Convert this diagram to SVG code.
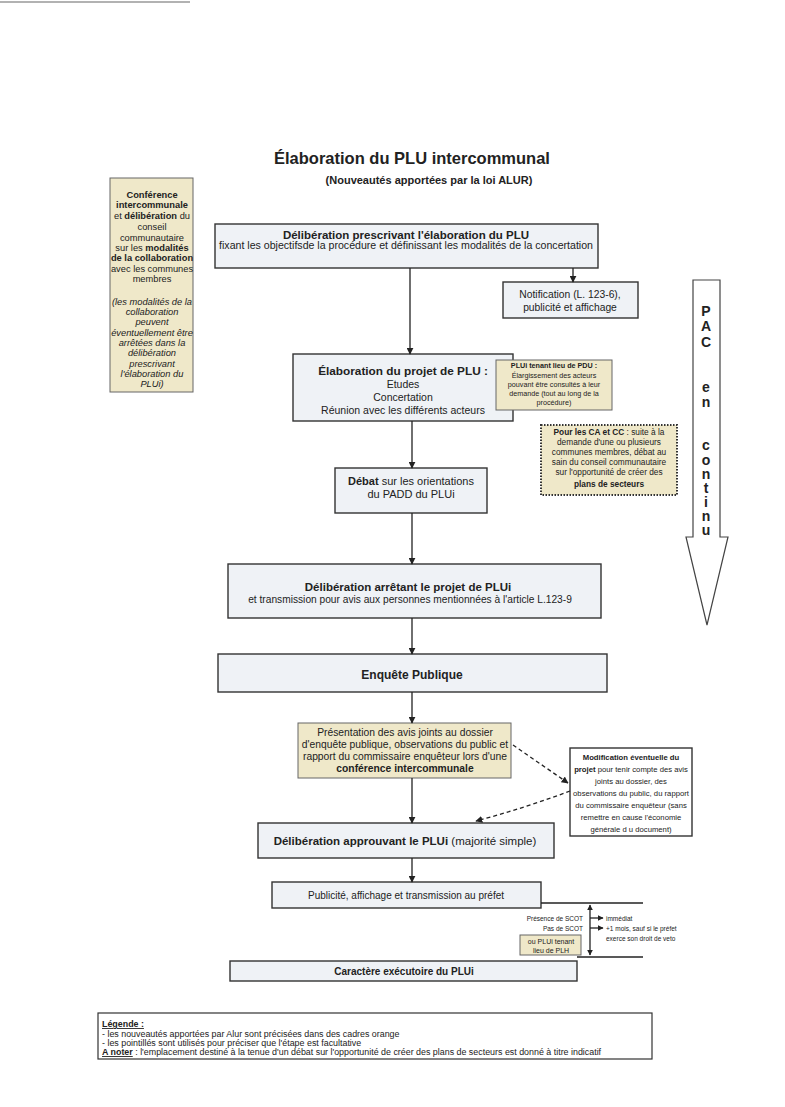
<svg xmlns="http://www.w3.org/2000/svg" width="785" height="1107" viewBox="0 0 785 1107">
<defs>
<marker id="ah" viewBox="0 0 10 10" refX="9" refY="5" markerWidth="7" markerHeight="7" orient="auto-start-reverse" markerUnits="userSpaceOnUse"><path d="M0,0 L10,5 L0,10 z" fill="#222"/></marker>
<marker id="ahs" viewBox="0 0 10 10" refX="9" refY="5" markerWidth="6" markerHeight="6" orient="auto-start-reverse" markerUnits="userSpaceOnUse"><path d="M0,0 L10,5 L0,10 z" fill="#222"/></marker>
</defs>
<style>
text{font-family:"Liberation Sans",Arial,sans-serif;fill:#222}
.box{fill:#eff2f6;stroke:#333;stroke-width:1.4}
.org{fill:#efe8c9;stroke:#666;stroke-width:1}
.dot{fill:#efe8c9;stroke:#333;stroke-width:2;stroke-dasharray:1.5 1.5}
.c{text-anchor:middle}
.b{font-weight:bold}
.i{font-style:italic}
.ln{stroke:#222;stroke-width:1.3;fill:none}
.dash{stroke:#222;stroke-width:1.3;fill:none;stroke-dasharray:4 3}
</style>
<rect width="785" height="1107" fill="#ffffff"/>
<line x1="0" y1="2" x2="190" y2="2" stroke="#999" stroke-width="1.5"/>

<g id="title">
<text x="412" y="164" class="c b" font-size="16.5">Élaboration du PLU intercommunal</text>
<text x="429" y="184" class="c b" font-size="11">(Nouveautés apportées par la loi ALUR)</text>
</g>

<g id="conference">
<rect x="110" y="178" width="83" height="214" class="org"/>
<g font-size="9.3" class="c">
<text x="152" y="198" class="b">Conférence</text>
<text x="152" y="208" class="b">intercommunale</text>
<text x="152" y="219">et <tspan class="b">délibération</tspan> du</text>
<text x="152" y="230">conseil</text>
<text x="152" y="241">communautaire</text>
<text x="152" y="251">sur les <tspan class="b">modalités</tspan></text>
<text x="152" y="261" class="b">de la collaboration</text>
<text x="152" y="272">avec les communes</text>
<text x="152" y="282">membres</text>
<text x="152" y="305" class="i">(les modalités de la</text>
<text x="152" y="315" class="i">collaboration</text>
<text x="152" y="325" class="i">peuvent</text>
<text x="152" y="336" class="i">éventuellement être</text>
<text x="152" y="346" class="i">arrêtées dans la</text>
<text x="152" y="356" class="i">délibération</text>
<text x="152" y="367" class="i">prescrivant</text>
<text x="152" y="377" class="i">l'élaboration du</text>
<text x="152" y="387" class="i">PLUi)</text>
</g>
</g>

<g id="deliberation-prescrivant">
<rect x="215" y="224" width="383" height="44" class="box"/>
<text x="406" y="239" class="c b" font-size="11.5">Délibération prescrivant l'élaboration du PLU</text>
<text x="406" y="249" class="c" font-size="10.6">fixant les objectifsde la procédure et définissant les modalités de la concertation</text>
</g>

<g id="notification">
<rect x="503" y="282" width="135" height="36" class="box"/>
<text x="570" y="298" class="c" font-size="10.3">Notification (L. 123-6),</text>
<text x="570" y="311" class="c" font-size="10.3">publicité et affichage</text>
</g>

<g id="elaboration-projet">
<rect x="293" y="354" width="220" height="67" class="box"/>
<text x="403" y="375" class="c b" font-size="11.8">Élaboration du projet de PLU :</text>
<text x="403" y="388" class="c" font-size="10.5">Etudes</text>
<text x="403" y="401" class="c" font-size="10.5">Concertation</text>
<text x="403" y="414" class="c" font-size="10.5">Réunion avec les différents acteurs</text>
</g>

<g id="plui-pdu">
<rect x="496" y="360" width="116" height="50" class="org"/>
<g font-size="7.2" class="c">
<text x="554" y="368" class="b">PLUi tenant lieu de PDU  :</text>
<text x="554" y="378">Élargissement des  acteurs</text>
<text x="554" y="387">pouvant être consultés à leur</text>
<text x="554" y="396">demande (tout au long de la</text>
<text x="554" y="405">procédure)</text>
</g>
</g>

<g id="ca-cc">
<rect x="541" y="425" width="136" height="70" class="dot"/>
<g font-size="8.3" class="c">
<text x="609" y="435"><tspan class="b">Pour les CA et CC</tspan> : suite à  la</text>
<text x="609" y="445">demande d'une ou plusieurs</text>
<text x="609" y="455">communes membres,  débat au</text>
<text x="609" y="465">sain du conseil communautaire</text>
<text x="609" y="475">sur l'opportunité de créer des</text>
<text x="609" y="487" class="b">plans de secteurs</text>
</g>
</g>

<g id="pac">
<path d="M693,280 L720,280 L720,537 L728,537 L707,625 L686,537 L693,537 Z" fill="#fff" stroke="#444" stroke-width="1.2"/>
<g font-size="14" class="c b">
<text x="706" y="316">P<tspan x="706" dy="15">A</tspan><tspan x="706" dy="16">C</tspan></text>
<text x="706" y="392">e<tspan x="706" dy="15">n</tspan></text>
<text x="706" y="450">c<tspan x="706" dy="14.5">o</tspan><tspan x="706" dy="14.5">n</tspan><tspan x="706" dy="14">t</tspan><tspan x="706" dy="14">i</tspan><tspan x="706" dy="14">n</tspan><tspan x="706" dy="14">u</tspan></text>
</g>
</g>

<g id="debat">
<rect x="335" y="468" width="152" height="45" class="box"/>
<text x="411" y="485" class="c" font-size="11"><tspan class="b">Débat</tspan> sur les orientations</text>
<text x="411" y="498" class="c" font-size="11">du PADD du PLUi</text>
</g>

<g id="deliberation-arretant">
<rect x="228" y="564" width="373" height="54" class="box"/>
<text x="408" y="591" class="c b" font-size="11.5">Délibération arrêtant le projet de PLUi</text>
<text x="410" y="603" class="c" font-size="10.2">et transmission pour avis aux personnes mentionnées à l'article L.123-9</text>
</g>

<g id="enquete">
<rect x="218" y="654" width="389" height="38" class="box"/>
<text x="412" y="679" class="c b" font-size="12">Enquête Publique</text>
</g>

<g id="presentation">
<rect x="298" y="723" width="213" height="55" class="org"/>
<g font-size="10.3" class="c">
<text x="405" y="736">Présentation des avis joints au dossier</text>
<text x="405" y="748">d'enquête publique, observations du public et</text>
<text x="405" y="760">rapport du commissaire enquêteur lors d'une</text>
<text x="405" y="772" class="b">conférence intercommunale</text>
</g>
</g>

<g id="modification">
<rect x="570" y="748" width="122" height="88" class="box" style="fill:#fff"/>
<g font-size="7.7" class="c">
<text x="631" y="760" class="b">Modification éventuelle du</text>
<text x="631" y="772"><tspan class="b">projet</tspan> pour tenir compte des avis</text>
<text x="631" y="784">joints au dossier, des</text>
<text x="631" y="796">observations du public, du rapport</text>
<text x="631" y="808">du commissaire enquêteur  (sans</text>
<text x="631" y="820">remettre en cause l'économie</text>
<text x="631" y="832">générale d u document)</text>
</g>
</g>

<g id="deliberation-approuvant">
<rect x="258" y="823" width="296" height="35" class="box"/>
<text x="405" y="845" class="c" font-size="11.5"><tspan class="b">Délibération approuvant le PLUi</tspan> (majorité simple)</text>
</g>

<g id="publicite">
<rect x="272" y="882" width="269" height="26" class="box"/>
<text x="406" y="899" class="c" font-size="10">Publicité, affichage et transmission au préfet</text>
</g>

<g id="scot">
<text x="583" y="921" text-anchor="end" font-size="6.5">Présence de SCOT</text>
<text x="583" y="931" text-anchor="end" font-size="6.5">Pas de SCOT</text>
<text x="606" y="921" font-size="6.5">immédiat</text>
<text x="606" y="931" font-size="6.5">+1 mois, sauf si le préfet</text>
<text x="606" y="941" font-size="6.5">exerce son droit de veto</text>
</g>

<g id="plui-plh">
<rect x="520" y="935" width="61" height="20" class="org"/>
<text x="551" y="944" class="c" font-size="7">ou PLUi tenant</text>
<text x="551" y="953" class="c" font-size="7">lieu de PLH</text>
</g>

<g id="caractere">
<rect x="230" y="961" width="347" height="20" class="box"/>
<text x="404" y="975" class="c b" font-size="10">Caractère exécutoire du PLUi</text>
</g>

<g id="legende">
<rect x="98" y="1013" width="554" height="46" fill="#fff" stroke="#333" stroke-width="1.2"/>
<g font-size="8.9">
<text x="102" y="1027" class="b" text-decoration="underline">Légende :</text>
<text x="102" y="1037">- les nouveautés apportées par Alur sont précisées dans des cadres orange</text>
<text x="102" y="1046">- les pointillés sont utilisés pour préciser que l'étape   est facultative</text>
<text x="102" y="1055"><tspan class="b" text-decoration="underline">A noter</tspan> : l'emplacement destiné à la tenue d'un  débat sur l'opportunité de créer des plans de secteurs est donné à titre indicatif</text>
</g>
</g>

<g id="connectors">
<line x1="410" y1="268" x2="410" y2="354" class="ln" marker-end="url(#ah)"/>
<line x1="573" y1="268" x2="573" y2="282" class="ln" marker-end="url(#ah)"/>
<line x1="412" y1="421" x2="412" y2="468" class="ln" marker-end="url(#ah)"/>
<line x1="412" y1="513" x2="412" y2="564" class="ln" marker-end="url(#ah)"/>
<line x1="412" y1="618" x2="412" y2="654" class="ln" marker-end="url(#ah)"/>
<line x1="412" y1="692" x2="412" y2="723" class="ln" marker-end="url(#ah)"/>
<line x1="412" y1="778" x2="412" y2="823" class="ln" marker-end="url(#ah)"/>
<line x1="412" y1="858" x2="412" y2="882" class="ln" marker-end="url(#ah)"/>
<path d="M513,745 L568,783" class="dash" marker-end="url(#ah)"/>
<path d="M570,791 Q525,808 476,821" class="dash" marker-end="url(#ah)"/>
<line x1="541" y1="903" x2="643" y2="903" class="ln"/>
<line x1="577" y1="957" x2="643" y2="957" class="ln"/>
<line x1="590" y1="905" x2="590" y2="955" class="ln" marker-start="url(#ahs)" marker-end="url(#ahs)"/>
<line x1="590" y1="918" x2="603" y2="918" class="ln" marker-end="url(#ahs)"/>
<line x1="590" y1="928" x2="603" y2="928" class="ln" marker-end="url(#ahs)"/>
</g>
</svg>
